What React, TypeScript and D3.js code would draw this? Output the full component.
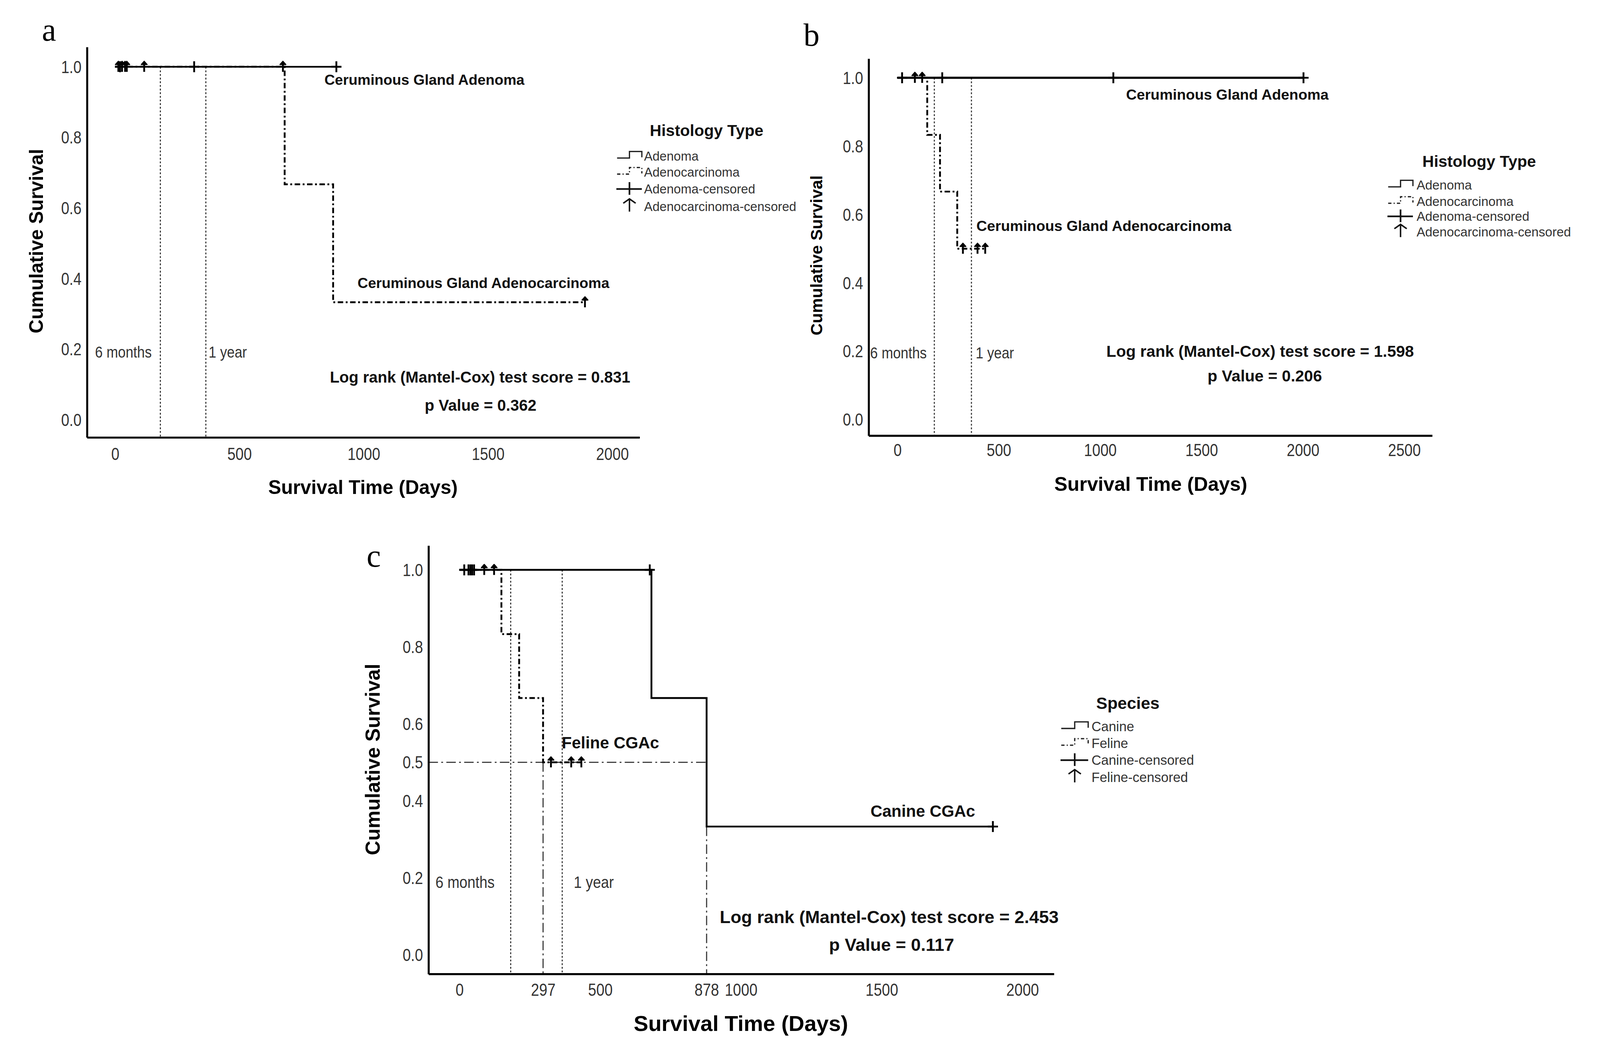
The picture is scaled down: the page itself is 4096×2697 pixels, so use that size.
import React, { useEffect, useRef } from 'react';
import * as d3 from 'd3';

// the reference figure is 4392 x 2892; everything is laid out in those units and scaled down
const SCALE = 0.932;
const W = 4096;
const H = 2697;

const SANS = "'Liberation Sans', Arial, Helvetica, sans-serif";
const SERIF = "'Liberation Serif', 'Times New Roman', serif";
const NARROW = 0.86; // tick labels use a condensed face in the original

// ---- data -------------------------------------------------------------

// guide lines at 6 months and 1 year
const REF_DAYS = [182, 365];

// panel a: histology type
const aAdenomaTimes = [0, 890];
const aAdenomaSurv = [1, 1];
const aAdenomaCensored = [20, 318, 890];
const aCarcTimes = [0, 682, 877, 1890];
const aCarcSurv = [1, 0.667, 0.333, 0.333];
const aCarcCensored = [13, 28, 40, 47, 117, 675, 1890];
const aXTicks = [0, 500, 1000, 1500, 2000];
const aYTicks = [0, 0.2, 0.4, 0.6, 0.8, 1.0];

// panel b: histology type (feline)
const bAdenomaTimes = [0, 2003];
const bAdenomaSurv = [1, 1];
const bAdenomaCensored = [23, 221, 1065, 2003];
const bCarcTimes = [0, 147, 210, 295, 435];
const bCarcSurv = [1, 0.833, 0.667, 0.5, 0.5];
const bCarcCensored = [86, 122, 323, 395, 433];
const bXTicks = [0, 500, 1000, 1500, 2000, 2500];
const bYTicks = [0, 0.2, 0.4, 0.6, 0.8, 1.0];

// panel c: species
const cCanineTimes = [0, 682, 878, 1895];
const cCanineSurv = [1, 0.667, 0.333, 0.333];
const cCanineCensored = [17, 32, 39, 45, 52, 676, 1895];
const cFelineTimes = [0, 149, 212, 297, 435];
const cFelineSurv = [1, 0.833, 0.667, 0.5, 0.5];
const cFelineCensored = [88, 123, 325, 397, 433];
const cXTicks = [0, 297, 500, 878, 1000, 1500, 2000];
const cYTicks = [0, 0.2, 0.4, 0.5, 0.6, 0.8, 1.0];
const cMedianLevel = 0.5;
const cMedianDays = [297, 878];

const histologyLegend = ['Adenoma', 'Adenocarcinoma', 'Adenoma-censored', 'Adenocarcinoma-censored'];
const speciesLegend = ['Canine', 'Feline', 'Canine-censored', 'Feline-censored'];

// ---- layout -----------------------------------------------------------

const KM_DASH = '15,7,5,7';
const DOT_DASH = '5,5';
const DASH_DOT = '26,9,5,9';

type Series = { times: number[]; surv: number[]; censored: number[]; dashed: boolean; mark: 'cross' | 'arrow' };
type Txt = { text: string; x: number; y: number; size: number; anchor?: string };

const PANELS = [
  {
    letter: { text: 'a', x: 115, y: 112 },
    xDomain: [-113, 2110], xRange: [239, 1757],
    yDomain: [-0.05, 1.056], yRange: [1201, 129],
    xTicks: aXTicks, yTicks: aYTicks, xLabelOffset: 45, curveWidth: 4.5,
    series: [
      { times: aAdenomaTimes, surv: aAdenomaSurv, censored: aAdenomaCensored, dashed: false, mark: 'cross' },
      { times: aCarcTimes, surv: aCarcSurv, censored: aCarcCensored, dashed: true, mark: 'arrow' },
    ] as Series[],
    refLabels: [
      { text: '6 months', x: 261, y: 966, size: 44 },
      { text: '1 year', x: 573, y: 966, size: 44 },
    ] as Txt[],
    notes: [
      { text: 'Ceruminous Gland Adenoma', x: 891, y: 219, size: 40 },
      { text: 'Ceruminous Gland Adenocarcinoma', x: 982, y: 777, size: 40 },
      { text: 'Log rank (Mantel-Cox) test score = 0.831', x: 906, y: 1035, size: 43 },
      { text: 'p Value = 0.362', x: 1320, y: 1113, size: 43, anchor: 'middle' },
    ] as Txt[],
    xTitle: { text: 'Survival Time (Days)', x: 997, y: 1338, size: 53 },
    yTitle: { text: 'Cumulative Survival', x: 100, y: 662, size: 53 },
    legend: {
      title: 'Histology Type', titleX: 1941, titleY: 358, titleSize: 44,
      labels: histologyLegend, textX: 1769, symX0: 1695, symX1: 1763, rows: [429, 473, 519, 567], size: 35,
    },
    median: null as null | { level: number; days: number[]; curve: number },
  },
  {
    letter: { text: 'b', x: 2207, y: 125 },
    xDomain: [-142, 2638], xRange: [2386, 3934],
    yDomain: [-0.047, 1.056], yRange: [1196, 161],
    xTicks: bXTicks, yTicks: bYTicks, xLabelOffset: 40, curveWidth: 6,
    series: [
      { times: bAdenomaTimes, surv: bAdenomaSurv, censored: bAdenomaCensored, dashed: false, mark: 'cross' },
      { times: bCarcTimes, surv: bCarcSurv, censored: bCarcCensored, dashed: true, mark: 'arrow' },
    ] as Series[],
    refLabels: [
      { text: '6 months', x: 2390, y: 968, size: 44 },
      { text: '1 year', x: 2680, y: 968, size: 44 },
    ] as Txt[],
    notes: [
      { text: 'Ceruminous Gland Adenoma', x: 3093, y: 259, size: 40.5 },
      { text: 'Ceruminous Gland Adenocarcinoma', x: 2682, y: 620, size: 40.5 },
      { text: 'Log rank (Mantel-Cox) test score = 1.598', x: 3039, y: 964, size: 44 },
      { text: 'p Value = 0.206', x: 3474, y: 1032, size: 44, anchor: 'middle' },
    ] as Txt[],
    xTitle: { text: 'Survival Time (Days)', x: 3161, y: 1329, size: 54 },
    yTitle: { text: 'Cumulative Survival', x: 2243, y: 701, size: 46 },
    legend: {
      title: 'Histology Type', titleX: 4063, titleY: 443, titleSize: 44,
      labels: histologyLegend, textX: 3891, symX0: 3813, symX1: 3881, rows: [508, 553, 594, 637], size: 35.5,
    },
    median: null as null | { level: number; days: number[]; curve: number },
  },
  {
    letter: { text: 'c', x: 1007, y: 1556 },
    xDomain: [-110, 2112], xRange: [1177, 2895],
    yDomain: [-0.05, 1.063], yRange: [2674, 1498],
    xTicks: cXTicks, yTicks: cYTicks, xLabelOffset: 44, curveWidth: 5,
    series: [
      { times: cCanineTimes, surv: cCanineSurv, censored: cCanineCensored, dashed: false, mark: 'cross' },
      { times: cFelineTimes, surv: cFelineSurv, censored: cFelineCensored, dashed: true, mark: 'arrow' },
    ] as Series[],
    refLabels: [
      { text: '6 months', x: 1196, y: 2422, size: 46 },
      { text: '1 year', x: 1576, y: 2422, size: 46 },
    ] as Txt[],
    notes: [
      { text: 'Feline CGAc', x: 1543, y: 2039, size: 45 },
      { text: 'Canine CGAc', x: 2391, y: 2227, size: 45 },
      { text: 'Log rank (Mantel-Cox) test score = 2.453', x: 1977, y: 2517, size: 48.5 },
      { text: 'p Value = 0.117', x: 2449, y: 2594, size: 48.5, anchor: 'middle' },
    ] as Txt[],
    xTitle: { text: 'Survival Time (Days)', x: 2035, y: 2810, size: 60 },
    yTitle: { text: 'Cumulative Survival', x: 1024, y: 2085, size: 55 },
    legend: {
      title: 'Species', titleX: 3098, titleY: 1930, titleSize: 46,
      labels: speciesLegend, textX: 2998, symX0: 2915, symX1: 2989, rows: [1995, 2041, 2087, 2134], size: 37,
    },
    median: { level: cMedianLevel, days: cMedianDays, curve: 0 },
  },
];

// survival level of a step curve at time t
function survAt(s: Series, t: number) {
  let v = s.surv[0];
  s.times.forEach((tt, i) => { if (tt <= t) v = s.surv[i]; });
  return v;
}

function drawMark(g: any, kind: string, cx: number, cy: number) {
  if (kind === 'cross') {
    g.append('path')
      .attr('d', `M${cx - 14},${cy}H${cx + 14}M${cx},${cy - 15}V${cy + 15}`)
      .attr('stroke', '#000').attr('stroke-width', 5).attr('fill', 'none');
  } else {
    g.append('path')
      .attr('d', `M${cx},${cy + 14}V${cy - 10}`)
      .attr('stroke', '#000').attr('stroke-width', 5).attr('fill', 'none');
    g.append('path')
      .attr('d', `M${cx - 8},${cy - 6}L${cx},${cy - 15}L${cx + 8},${cy - 6}Z`)
      .attr('stroke', '#000').attr('stroke-width', 3).attr('stroke-linejoin', 'round').attr('fill', '#000');
  }
}

function drawPanel(root: any, p: typeof PANELS[number]) {
  const g = root.append('g');
  const x = d3.scaleLinear().domain(p.xDomain).range(p.xRange);
  const y = d3.scaleLinear().domain(p.yDomain).range(p.yRange);
  const bottom = p.yRange[0];
  const left = p.xRange[0];

  g.append('text')
    .attr('x', p.letter.x).attr('y', p.letter.y)
    .text(p.letter.text)
    .style('font-family', SERIF).style('font-size', '88px').style('fill', '#000');

  // 6 months / 1 year guides
  REF_DAYS.forEach(d => {
    g.append('line')
      .attr('x1', x(d)).attr('x2', x(d)).attr('y1', y(1)).attr('y2', bottom)
      .attr('stroke', '#333').attr('stroke-width', 3).attr('stroke-dasharray', DOT_DASH);
  });

  // median survival guides
  if (p.median) {
    const m = p.median;
    g.append('line')
      .attr('x1', left).attr('x2', x(m.days[m.days.length - 1]))
      .attr('y1', y(m.level)).attr('y2', y(m.level))
      .attr('stroke', '#333').attr('stroke-width', 3).attr('stroke-dasharray', DASH_DOT);
    m.days.forEach(d => {
      const top = Math.min(m.level, survAt(p.series[m.curve], d));
      g.append('line')
        .attr('x1', x(d)).attr('x2', x(d)).attr('y1', y(top)).attr('y2', bottom)
        .attr('stroke', '#333').attr('stroke-width', 3).attr('stroke-dasharray', DASH_DOT);
    });
  }

  p.refLabels.forEach(t => {
    g.append('text')
      .attr('transform', `translate(${t.x},${t.y}) scale(${NARROW},1)`)
      .attr('dy', '0.35em')
      .text(t.text)
      .style('font-family', SANS).style('font-size', `${t.size}px`).style('fill', '#333');
  });

  // survival curves
  const line = d3.line<[number, number]>()
    .x(d => x(d[0]))
    .y(d => y(d[1]))
    .curve(d3.curveStepAfter);

  p.series.forEach(s => {
    const pts = s.times.map((t, i) => [t, s.surv[i]] as [number, number]);
    g.append('path')
      .attr('d', line(pts))
      .attr('fill', 'none')
      .attr('stroke', '#000')
      .attr('stroke-width', s.dashed ? 5 : p.curveWidth)
      .attr('stroke-dasharray', s.dashed ? KM_DASH : null);
  });

  p.series.forEach(s => {
    s.censored.forEach(t => drawMark(g, s.mark, x(t), y(survAt(s, t))));
  });

  // axes
  const yAxis = g.append('g')
    .attr('transform', `translate(${left},0)`)
    .call(d3.axisLeft(y).tickValues(p.yTicks).tickSize(0).tickSizeOuter(0).tickFormat(d3.format('.1f')));
  yAxis.select('.domain').attr('stroke', '#000').attr('stroke-width', 5.5);
  yAxis.selectAll('text')
    .attr('x', -15 / NARROW)
    .attr('dy', '0.35em')
    .attr('transform', `scale(${NARROW},1)`)
    .style('font-family', SANS).style('font-size', '47px').style('fill', '#333');

  const xAxis = g.append('g')
    .attr('transform', `translate(0,${bottom})`)
    .call(d3.axisBottom(x).tickValues(p.xTicks).tickSize(0).tickSizeOuter(0).tickFormat(d3.format('d')));
  xAxis.select('.domain').attr('stroke', '#000').attr('stroke-width', 5.5);
  xAxis.selectAll('text')
    .attr('y', p.xLabelOffset)
    .attr('dy', '0.35em')
    .attr('transform', `scale(${NARROW},1)`)
    .style('font-family', SANS).style('font-size', '47px').style('fill', '#333');

  // annotations
  p.notes.forEach(t => {
    g.append('text')
      .attr('x', t.x).attr('y', t.y).attr('dy', '0.35em')
      .attr('text-anchor', t.anchor || 'start')
      .text(t.text)
      .style('font-family', SANS).style('font-weight', 'bold')
      .style('font-size', `${t.size}px`).style('fill', '#111');
  });

  // axis titles
  g.append('text')
    .attr('x', p.xTitle.x).attr('y', p.xTitle.y).attr('dy', '0.35em')
    .attr('text-anchor', 'middle')
    .text(p.xTitle.text)
    .style('font-family', SANS).style('font-weight', 'bold')
    .style('font-size', `${p.xTitle.size}px`).style('fill', '#000');
  g.append('text')
    .attr('transform', `translate(${p.yTitle.x},${p.yTitle.y}) rotate(-90)`)
    .attr('dy', '0.35em')
    .attr('text-anchor', 'middle')
    .text(p.yTitle.text)
    .style('font-family', SANS).style('font-weight', 'bold')
    .style('font-size', `${p.yTitle.size}px`).style('fill', '#000');

  // legend
  const lg = p.legend;
  g.append('text')
    .attr('x', lg.titleX).attr('y', lg.titleY).attr('dy', '0.35em')
    .attr('text-anchor', 'middle')
    .text(lg.title)
    .style('font-family', SANS).style('font-weight', 'bold')
    .style('font-size', `${lg.titleSize}px`).style('fill', '#111');

  const mid = (lg.symX0 + lg.symX1) / 2;
  lg.labels.forEach((lab, i) => {
    const cy = lg.rows[i];
    g.append('text')
      .attr('x', lg.textX).attr('y', cy).attr('dy', '0.35em')
      .text(lab)
      .style('font-family', SANS).style('font-size', `${lg.size}px`).style('fill', '#333');

    if (i < 2) {
      g.append('path')
        .attr('d', `M${lg.symX0},${cy + 5}H${mid}V${cy - 13}H${lg.symX1}V${cy + 3}`)
        .attr('fill', 'none').attr('stroke', '#222').attr('stroke-width', 3.5)
        .attr('stroke-dasharray', i === 1 ? '9,6,3,6' : null);
    } else if (i === 2) {
      g.append('path')
        .attr('d', `M${lg.symX0 - 2},${cy}H${lg.symX1}M${mid},${cy - 19}V${cy + 16}`)
        .attr('fill', 'none').attr('stroke', '#111').attr('stroke-width', 4.5);
    } else {
      g.append('path')
        .attr('d', `M${mid},${cy + 14}V${cy - 20}M${mid - 17},${cy - 9}L${mid},${cy - 21}L${mid + 17},${cy - 9}`)
        .attr('fill', 'none').attr('stroke', '#111').attr('stroke-width', 4);
    }
  });
}

export default function App() {
  const svgRef = useRef<SVGSVGElement>(null);

  useEffect(() => {
    if (!svgRef.current) return;
    const svg = d3.select(svgRef.current);
    svg.selectAll('*').remove();

    svg.append('rect').attr('width', W).attr('height', H).attr('fill', '#fff');
    const root = svg.append('g').attr('transform', `scale(${SCALE})`);
    PANELS.forEach(p => drawPanel(root, p));
  }, []);

  return (
    <svg
      ref={svgRef}
      width={W}
      height={H}
      style={{ position: 'absolute', left: 0, top: 0, display: 'block', background: '#fff' }}
    />
  );
}
